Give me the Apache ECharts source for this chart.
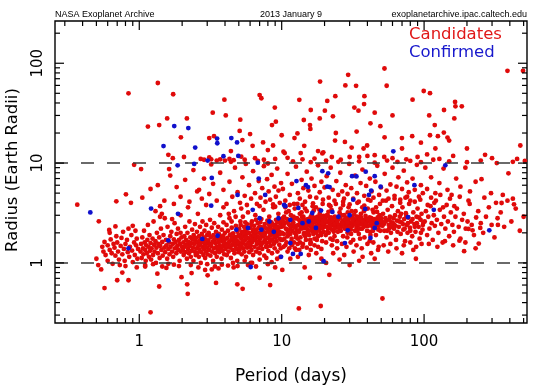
<!DOCTYPE html>
<html>
<head>
<meta charset="utf-8">
<script src="https://cdn.jsdelivr.net/npm/echarts@6/dist/echarts.min.js"></script>
<style>html,body{margin:0;padding:0;background:#fff;}#c{width:550px;height:388px;}</style>
</head>
<body>
<div id="c"></div>
<script>
// ---- axis extents and ticks ----
const X_MIN = 0.256, X_MAX = 528, Y_MIN = 0.25, Y_MAX = 265;
const xTickValues = [0.3,0.4,0.5,0.6,0.7,0.8,0.9,1,2,3,4,5,6,7,8,9,10,20,30,40,50,60,70,80,90,100,200,300,400,500];
const yTickValues = [0.3,0.4,0.5,0.6,0.7,0.8,0.9,1,2,3,4,5,6,7,8,9,10,20,30,40,50,60,70,80,90,100,200];
const majorTicks = [1,10,100];
const xTickLabels = ['1','10','100'];
const yTickLabels = ['1','10','100'];
const refLines = [1, 10];

// ---- candidates: [period (days), radius (Earth radii)] ----
const candShortPeriod = [[0.367,3.83],[0.52,2.61],[0.615,2.14],[0.68,2.32],[0.69,4.14],[0.806,4.86],[0.874,4.0],[0.92,9.6],
[0.5,1.1],[0.515,0.95],[0.54,0.86],[0.57,0.56],[0.70,0.67],[0.84,0.67],[0.76,0.8],[0.96,0.9],
[0.55,1.45],[0.56,1.3],[0.57,1.62],[0.58,1.2],[0.6,1.5],[0.62,1.35],[0.63,1.72],[0.64,1.25],[0.66,1.55],[0.67,1.42],[0.68,1.18],[0.7,1.6],[0.71,1.3],[0.72,1.08],[0.74,1.48],[0.75,1.78],[0.76,1.22],[0.78,1.38],[0.79,1.05],[0.8,1.55],[0.82,1.7],[0.83,1.28],[0.85,1.15],[0.86,1.45],[0.88,1.9],[0.89,1.33],[0.9,1.02],[0.92,1.6],[0.93,1.2],[0.95,1.5],[0.96,1.75],[0.97,1.1],[0.98,1.38],[0.6,1.05],[0.65,0.98],[0.73,0.95],[0.8,0.93],[0.62,2.0],[0.77,2.05],[0.84,2.2],[0.9,2.35],[0.94,2.1],[0.69,1.85]];

const candOneToTwo = [[1.03,8.7],[1.35,6.0],[1.44,3.1],[1.83,5.75],[1.62,8.7],
[1.1,0.92],[1.2,0.32],[1.38,0.58],[1.34,0.78],[1.55,0.89],[1.98,0.72],
[1.02,1.3],[1.03,1.55],[1.04,1.12],[1.05,1.8],[1.06,1.4],[1.07,1.22],[1.08,2.1],[1.09,1.6],[1.1,1.35],[1.11,1.05],[1.12,1.5],[1.13,1.25],[1.14,1.7],[1.15,2.4],[1.16,1.45],[1.17,1.15],[1.18,1.9],[1.19,1.32],[1.2,1.58],[1.21,1.08],[1.22,1.4],[1.24,1.75],[1.25,1.2],[1.26,2.6],[1.27,1.52],[1.28,1.3],[1.3,1.65],[1.31,1.0],[1.32,1.42],[1.33,2.0],[1.35,1.25],[1.36,1.55],[1.38,1.8],[1.39,1.12],[1.4,1.48],[1.42,2.2],[1.43,1.35],[1.45,1.62],[1.46,1.18],[1.48,1.9],[1.5,1.42],[1.51,2.8],[1.52,1.28],[1.54,1.7],[1.55,1.5],[1.57,1.1],[1.58,2.3],[1.6,1.38],[1.62,1.6],[1.63,1.22],[1.65,1.85],[1.66,1.45],[1.68,2.05],[1.7,1.3],[1.72,1.55],[1.73,1.15],[1.75,1.72],[1.77,2.5],[1.78,1.4],[1.8,1.62],[1.82,1.25],[1.83,1.95],[1.85,1.48],[1.87,2.2],[1.88,1.35],[1.9,1.7],[1.92,1.05],[1.93,1.55],[1.95,2.0],[1.96,1.3],[1.98,1.8],[1.99,1.45],[1.1,0.95],[1.25,0.97],[1.45,0.92],[1.6,0.98],[1.75,0.96],[1.9,0.93],[1.4,2.9],[1.7,2.75],[1.95,3.0],[1.3,3.3]];

const candTwoToFive = [[2.17,0.61],[2.19,0.49],[2.33,0.79],[3.02,0.75],[3.23,0.86],[3.46,0.63],[4.88,0.61],
[2.02,1.35],[2.04,1.6],[2.05,1.2],[2.07,1.85],[2.08,1.45],[2.1,2.3],[2.11,1.28],[2.13,1.7],[2.15,1.52],[2.16,1.1],[2.18,2.0],[2.2,1.38],[2.21,1.62],[2.23,1.25],[2.25,2.6],[2.26,1.48],[2.28,1.8],[2.3,1.15],[2.31,1.58],[2.33,1.32],[2.35,2.15],[2.36,1.72],[2.38,1.42],[2.4,1.05],[2.41,1.9],[2.43,1.55],[2.45,1.3],[2.46,2.45],[2.48,1.65],[2.49,1.2],
[2.5,1.78],[2.52,1.4],[2.54,2.05],[2.55,1.25],[2.57,1.6],[2.58,3.1],[2.6,1.48],[2.62,1.15],[2.63,1.85],[2.65,1.35],[2.67,2.3],[2.68,1.55],[2.7,1.0],[2.72,1.7],[2.73,1.28],[2.75,1.95],[2.77,1.45],[2.78,2.6],[2.8,1.62],[2.82,1.2],[2.84,1.8],[2.85,1.38],[2.87,2.1],[2.89,1.5],[2.9,1.12],[2.92,1.72],[2.94,1.3],[2.95,2.4],[2.97,1.58],[2.99,1.9],
[3.0,1.42],[3.02,1.22],[3.05,1.68],[3.07,2.0],[3.1,1.35],[3.12,1.55],[3.14,2.7],[3.16,1.18],[3.18,1.8],[3.2,1.48],[3.23,2.25],[3.25,1.3],[3.27,1.62],[3.3,1.05],[3.32,1.9],[3.34,1.4],[3.36,2.5],[3.38,1.72],[3.41,1.25],[3.43,1.58],[3.46,2.05],[3.48,1.45],
[3.5,1.15],[3.52,1.75],[3.55,1.35],[3.58,2.3],[3.6,1.6],[3.62,1.95],[3.65,1.28],[3.68,1.5],[3.7,3.0],[3.72,1.82],[3.75,1.4],[3.78,1.1],[3.8,2.15],[3.82,1.65],[3.85,1.32],[3.88,1.88],[3.9,2.55],[3.92,1.48],[3.95,1.22],[3.98,1.7],
[4.0,2.0],[4.03,1.38],[4.06,1.55],[4.1,2.4],[4.12,1.2],[4.15,1.78],[4.18,1.45],[4.2,2.1],[4.24,1.3],[4.27,1.62],[4.3,2.8],[4.33,1.9],[4.36,1.42],[4.4,1.12],[4.43,1.7],[4.46,2.25],[4.5,1.52],[4.53,1.35],[4.56,1.98],[4.6,1.6],[4.63,3.3],[4.66,1.25],[4.7,1.82],[4.74,1.48],[4.77,2.35],[4.8,1.38],[4.84,1.68],[4.87,1.05],[4.9,2.05],[4.94,1.55],[4.97,1.28],[4.45,2.6],[4.25,3.1],[4.75,2.9],[4.55,1.0],
[2.3,0.95],[2.6,0.9],[3.0,0.97],[3.4,0.92],[3.8,0.96],[4.2,0.94],[4.6,0.9],[2.9,0.85],[3.6,0.88],[4.9,0.93],
[2.12,1.5],[2.42,1.75],[2.66,1.68],[2.93,1.45],[3.15,1.52],[3.44,1.78],[3.66,1.7],[3.93,1.58],[4.22,1.5],[4.48,1.78],[4.72,1.6],[4.95,1.85]];

const candFiveToTen = [[5.32,0.55],[8.3,0.6],[7.0,0.71],[6.06,1.0],
[5.0,1.6],[5.03,2.2],[5.06,1.35],[5.1,1.9],[5.13,2.6],[5.16,1.48],[5.2,1.75],[5.24,1.22],[5.27,2.05],[5.3,1.58],[5.34,2.9],[5.37,1.4],[5.4,1.85],[5.44,2.3],[5.47,1.3],[5.5,1.68],[5.54,2.1],[5.58,1.52],[5.62,1.15],[5.65,1.95],[5.7,2.45],[5.73,1.42],[5.77,1.78],[5.8,3.2],[5.84,1.6],[5.88,2.0],[5.92,1.28],[5.96,1.72],
[6.0,2.25],[6.05,1.5],[6.1,1.88],[6.14,1.35],[6.18,2.6],[6.22,1.62],[6.27,2.05],[6.3,1.2],[6.35,1.8],[6.4,2.35],[6.44,1.45],[6.48,1.7],[6.53,3.0],[6.57,1.95],[6.62,1.3],[6.66,2.15],[6.7,1.55],[6.75,1.82],[6.8,2.5],[6.85,1.4],[6.9,1.65],[6.95,2.0],
[7.0,1.25],[7.05,2.3],[7.1,1.75],[7.15,1.5],[7.2,2.75],[7.25,1.9],[7.3,1.38],[7.35,2.1],[7.4,1.6],[7.45,3.4],[7.5,1.85],[7.55,1.18],[7.6,2.45],[7.65,1.7],[7.7,2.0],[7.76,1.45],[7.82,2.2],[7.88,1.58],[7.94,2.65],
[8.0,1.78],[8.06,1.32],[8.12,2.05],[8.18,2.9],[8.24,1.62],[8.3,2.3],[8.36,1.48],[8.42,1.9],[8.48,2.55],[8.55,1.25],[8.6,1.72],[8.67,2.15],[8.73,3.6],[8.8,1.55],[8.86,2.0],[8.93,1.4],[9.0,2.4],[9.06,1.8],[9.13,2.7],[9.2,1.65],[9.27,2.1],[9.34,1.3],[9.4,1.92],[9.48,3.1],[9.55,2.25],[9.62,1.52],[9.7,1.75],[9.77,2.5],[9.85,1.4],[9.92,2.0],
[5.2,1.5],[5.6,1.8],[6.0,1.45],[6.4,1.9],[6.8,1.6],[7.2,1.55],[7.6,1.9],[8.0,2.2],[8.4,1.7],[8.8,2.35],[9.2,1.85],[9.6,2.05],[5.4,2.0],[5.9,1.55],[6.3,2.15],[6.9,2.25],[7.4,1.95],[7.9,1.45],[8.3,1.88],[8.9,1.6],[9.4,2.3],[9.9,1.7],
[5.5,1.05],[6.2,1.0],[7.0,1.08],[7.8,1.12],[8.5,1.02],[9.3,1.1],[5.8,0.95],[6.6,0.92],[8.0,0.97],[9.0,0.9],[9.8,1.15],
[5.15,2.4],[5.55,2.55],[6.12,2.45],[6.6,2.7],[7.08,2.55],[7.55,2.3],[8.15,2.6],[8.6,2.45],[9.1,2.25],[9.65,2.75]];

const candTenToTwenty = [[13.2,0.35],[18.8,0.37],[15.8,0.71],[10.1,0.85],[14.5,0.9],
[10.0,2.3],[10.1,1.7],[10.2,2.8],[10.35,1.95],[10.5,2.5],[10.6,1.5],[10.75,3.2],[10.9,2.15],[11.0,1.85],[11.15,2.65],[11.3,1.4],[11.45,2.35],[11.6,3.0],[11.75,1.75],[11.9,2.1],[12.05,2.55],[12.2,1.6],[12.35,3.5],[12.5,2.25],[12.65,1.9],[12.8,2.8],[12.95,1.55],[13.1,2.4],[13.25,2.05],[13.4,3.1],[13.55,1.8],[13.7,2.6],[13.85,2.2],[14.0,1.45],[14.2,2.9],[14.4,2.0],[14.6,2.45],[14.8,1.7],[15.0,3.3],[15.2,2.15],[15.4,2.7],[15.6,1.9],[15.8,2.35],[16.0,1.6],[16.2,3.0],[16.4,2.5],[16.6,2.05],[16.8,2.8],[17.0,1.75],[17.2,2.3],[17.4,3.6],[17.6,2.1],[17.8,2.6],[18.0,1.85],[18.25,2.4],[18.5,3.1],[18.75,2.0],[19.0,2.7],[19.25,1.65],[19.5,2.25],[19.75,2.95],
[10.05,2.0],[10.4,2.9],[10.8,1.6],[11.2,2.45],[11.5,1.95],[11.9,2.75],[12.3,2.0],[12.7,2.35],[13.0,1.75],[13.5,2.5],[13.9,2.9],[14.3,1.95],[14.7,2.6],[15.1,2.0],[15.5,2.4],[15.9,2.85],[16.3,2.2],[16.7,1.95],[17.1,2.55],[17.5,2.0],[17.9,2.9],[18.3,2.15],[18.7,2.5],[19.1,2.3],[19.6,2.05],
[10.2,2.6],[10.7,2.2],[11.1,2.0],[11.7,2.3],[12.1,2.9],[12.6,1.8],[13.2,2.7],[13.6,2.25],[14.1,2.55],[14.5,2.25],[15.3,2.5],[15.7,2.1],[16.1,2.7],[16.5,2.35],[17.3,2.7],[17.7,2.35],[18.1,2.6],[18.9,2.25],[19.3,2.55],[19.8,2.4],
[10.3,1.45],[11.0,1.3],[11.8,1.5],[12.4,1.4],[13.3,1.35],[14.1,1.55],[15.0,1.42],[16.0,1.35],[17.0,1.5],[18.0,1.45],[19.0,1.38],[10.6,3.6],[11.4,3.8],[12.9,3.9],[14.6,3.5],[16.5,3.7],[18.4,3.4],[19.4,3.9],[13.0,1.15],[15.5,1.2],[17.5,1.25],[11.5,1.1],[19.0,1.1],
[10.45,1.75],[11.05,2.6],[11.65,1.62],[12.25,2.3],[12.85,2.1],[13.45,1.6],[14.05,2.3],[14.65,1.85],[15.25,2.75],[15.85,1.7],[16.45,2.9],[17.05,2.25],[17.65,1.7],[18.35,2.8],[18.95,1.9],[19.55,2.65]];

const candTwentyToFifty = [[21.6,0.76],[20.5,1.0],[30.0,0.95],
[20.0,2.5],[20.4,1.9],[20.8,3.0],[21.2,2.2],[21.6,2.7],[22.0,1.75],[22.4,3.4],[22.8,2.4],[23.2,2.05],[23.6,2.9],[24.0,2.3],[24.5,1.65],[25.0,2.75],[25.5,3.2],[26.0,2.1],[26.5,2.55],[27.0,1.85],[27.5,3.0],[28.0,2.35],[28.5,2.8],[29.0,2.0],[29.5,3.6],[30.0,2.5],[30.6,2.15],[31.2,2.9],[31.8,1.7],[32.4,2.6],[33.0,3.3],[33.6,2.25],[34.2,2.75],[34.8,1.95],[35.4,2.45],[36.0,3.1],[36.7,2.2],[37.4,2.65],[38.1,1.8],[38.8,2.95],[39.5,2.35],[40.2,3.5],[41.0,2.6],[41.8,2.05],[42.6,2.8],[43.4,2.3],[44.2,3.2],[45.0,2.5],[45.9,1.9],[46.8,2.7],[47.7,2.15],[48.6,3.0],[49.5,2.4],
[20.2,2.8],[20.6,2.3],[21.0,2.55],[21.4,2.0],[21.8,2.45],[22.2,2.85],[22.6,2.15],[23.0,2.6],[23.4,2.35],[23.8,2.5],[24.3,2.7],[24.8,2.05],[25.3,2.4],[25.8,2.85],[26.3,2.3],[26.8,2.65],[27.3,2.45],[27.8,2.2],[28.3,2.6],[28.8,2.4],[29.3,2.7],[29.8,2.25],[30.3,2.85],[30.9,2.55],[31.5,2.35],[32.1,2.75],[32.7,2.1],[33.3,2.5],[33.9,2.9],[34.5,2.4],[35.1,2.65],[35.7,2.2],[36.3,2.8],[37.0,2.45],[37.7,2.3],[38.4,2.7],[39.1,2.5],[39.8,2.1],[40.6,2.35],[41.4,2.85],[42.2,2.4],[43.0,2.65],[43.8,2.1],[44.6,2.75],[45.4,2.3],[46.3,2.55],[47.2,2.85],[48.1,2.35],[49.0,2.6],
[20.5,1.6],[22.5,1.5],[24.5,1.4],[26.5,1.55],[28.5,1.45],[30.5,1.6],[33.5,1.5],[36.5,1.4],[40.0,1.55],[44.0,1.6],[48.0,1.45],[21.5,3.8],[24.0,3.9],[27.0,4.1],[30.0,3.85],[34.0,4.0],[38.0,3.75],[42.0,4.2],[46.0,3.6],[49.0,3.9],[23.0,1.25],[27.5,1.2],[32.0,1.3],[37.0,1.15],[42.5,1.25],[47.5,1.35],[25.5,1.08],[35.0,1.05],[45.0,1.1],
[20.9,2.05],[22.0,2.65],[23.5,1.85],[25.0,2.25],[26.2,3.0],[27.6,2.6],[29.1,3.2],[30.7,1.95],[32.3,3.05],[34.0,2.1],[35.8,2.9],[37.8,3.3],[39.9,2.75],[42.0,1.9],[44.3,2.45],[46.7,3.25],[49.2,2.1]];

const candCoreExtra = [[3.1,1.9],[3.3,1.62],[3.6,1.42],[3.9,1.75],[4.1,1.5],[4.4,1.92],[4.7,1.7],[5.05,1.42],[5.35,1.65],[5.75,2.2],[6.15,1.72],[6.5,2.05],[6.95,1.8],[7.3,2.25],[7.7,1.6],[8.1,2.45],[8.5,2.1],[8.95,1.85],[9.35,2.55],[9.75,1.95],
[10.3,2.35],[10.9,2.75],[11.4,2.15],[12.0,2.5],[12.5,2.8],[13.1,2.1],[13.7,2.4],[14.3,2.75],[14.9,2.25],[15.6,2.65],[16.2,2.4],[16.9,2.6],[17.6,2.85],[18.2,2.3],[18.9,2.95],[19.5,2.5],
[20.3,2.65],[21.1,2.95],[21.9,2.3],[22.7,2.7],[23.6,2.2],[24.6,2.6],[25.6,2.95],[26.7,2.5],[27.8,2.75],[29.0,2.55],[30.2,2.3],[31.5,2.65],[32.8,2.45],[34.2,2.55],[35.6,2.75],[37.2,2.6],[38.8,2.45],[40.5,2.7],[42.3,2.55],[44.1,2.35],[46.0,2.65],[48.0,2.5],[50.0,2.8],[52.2,2.45],[54.4,2.65],[56.8,2.2],[59.2,2.55],[61.8,2.4],
[11.2,3.3],[13.8,3.2],[16.8,3.35],[21.3,3.25],[25.9,3.5],[31.0,3.3],[36.8,3.6],[43.5,3.4],[12.6,1.35],[15.9,1.55],[22.8,1.7],[28.9,1.8],[35.5,1.75],[41.5,1.65]];

const candFiftyToHundred = [[51,0.44],[87.6,1.1],
[50.5,2.6],[51.5,3.1],[52.5,2.1],[53.5,2.8],[54.5,1.8],[55.5,3.4],[56.5,2.4],[57.5,2.9],[58.5,2.0],[59.5,3.7],[60.5,2.5],[61.5,2.2],[62.5,3.0],[63.5,1.7],[64.5,2.65],[65.5,3.3],[66.5,2.3],[67.5,2.9],[68.5,1.95],[69.5,2.55],[70.5,3.6],[71.5,2.15],[72.5,2.75],[73.5,1.65],[74.5,3.15],[75.5,2.4],[76.5,2.0],[77.5,2.85],[78.5,3.9],[79.5,2.25],[81,2.6],[82.5,1.85],[84,3.2],[85.5,2.45],[87,2.05],[88.5,2.9],[90,3.5],[91.5,2.3],[93,1.75],[94.5,2.7],[96,3.1],[97.5,2.15],[99,2.55],
[51,2.35],[53,2.55],[55,2.1],[57,2.7],[59,2.3],[61,2.8],[63,2.35],[65,2.05],[67,2.6],[69,3.1],[71,2.45],[73,2.2],[75,2.95],[77,2.5],[80,2.1],[83,2.75],[86,2.3],[89,2.5],[92,2.85],[95,2.0],[98,2.4],
[52,1.5],[58,1.55],[64,1.4],[72,1.5],[80,1.6],[88,1.45],[96,1.55],[54,4.2],[62,4.4],[68,4.0],[76,4.6],[86,4.1],[94,4.3],[56,1.3],[70,1.25],[84,1.35]];

const candLongPeriod = [[191,1.31],[242,1.56],[330,2.4],[428,3.86],[350,3.98],[357,4.8],[295,5.0],[219,2.12],[205,2.19],[177,1.67],[248,2.24],
[101,2.6],[103,3.3],[105,1.9],[107,2.9],[109,2.2],[111,3.7],[113,2.5],[115,1.7],[117,3.0],[119,2.35],[121,4.2],[123,2.7],[126,2.0],[129,3.4],[132,2.45],[135,1.6],[138,2.9],[141,2.2],[144,3.8],[147,2.6],[150,1.85],[154,3.2],[158,2.4],[162,2.05],[166,2.9],[170,3.5],[175,2.3],[180,1.75],[185,2.7],[190,3.1],[196,2.2],[202,2.6],[209,3.9],[216,2.4],[224,1.9],[232,2.85],[240,3.3],[250,2.5],[260,2.0],[272,2.9],[285,3.6],[298,2.4],[312,1.8],[328,2.8],[345,3.2],[365,2.3],[385,4.2],[410,2.6],[440,3.5],[470,2.1],[500,2.9],
[108,1.55],[124,1.45],[140,1.65],[160,1.5],[195,1.6],[230,1.4],[112,4.5],[130,4.8],[152,4.4],[178,4.6],[205,4.2],[265,4.5],[320,4.0],[420,4.4],[106,3.8],[118,4.0],[136,3.6],[163,3.7]];

const candMidRadius = [[1.05,4.5],[1.2,5.5],[1.5,4.2],[1.65,7.5],[1.95,4.6],[2.1,6.8],[2.25,4.1],[2.4,8.5],[2.55,5.2],[2.63,5.4],[2.75,4.4],[2.85,7.0],[2.95,3.8],[1.4,3.7],[1.75,3.9],[2.2,3.6],
[3.1,4.9],[3.3,6.2],[3.5,4.2],[3.7,8.0],[3.9,5.4],[4.1,3.9],[4.3,6.5],[4.5,4.6],[4.7,9.0],[4.9,5.1],[5.1,4.0],[5.3,7.2],[5.5,4.7],[5.7,3.8],[5.9,6.0],[6.1,4.4],[6.3,8.3],[6.5,5.0],[6.7,3.9],[6.9,6.6],[7.1,4.5],[7.3,5.6],[7.5,9.3],[7.7,4.1],[7.9,6.9],[8.1,5.2],[8.3,4.3],[8.5,7.6],[8.7,3.85],[8.9,5.8],[9.1,4.6],[9.3,8.8],[9.5,5.3],[9.7,4.0],[9.9,6.3],[3.2,9.7],[4.4,10.3],[5.6,9.8],[6.8,10.5],[8.0,9.9],[3.9,3.6],[5.2,3.5],[7.0,3.7],[9.0,3.65],
[10.2,5.5],[10.6,4.2],[11.0,7.8],[11.4,4.8],[11.8,6.2],[12.2,3.9],[12.6,9.2],[13.0,5.0],[13.4,4.4],[13.8,6.8],[14.2,5.6],[14.6,4.1],[15.0,8.2],[15.4,5.3],[15.8,4.6],[16.2,7.0],[16.6,3.95],[17.0,5.9],[17.5,4.5],[18.0,9.5],[18.5,5.1],[19.0,6.5],[19.5,4.3],[20.0,5.7],[20.7,7.4],[21.4,4.5],[22.1,9.0],[22.8,5.4],[23.5,4.2],[24.2,6.6],[25.0,4.8],[25.8,8.0],[26.6,5.2],[27.4,4.4],[28.2,6.0],[29.0,4.9],[29.8,9.8],[12.0,10.4],[16.0,10.2],[20.5,10.6],[25.0,10.3],[14.0,3.8],[22.0,3.7],[27.0,3.8],
[30.8,5.6],[31.8,4.4],[32.8,7.5],[33.8,5.0],[34.8,4.1],[35.8,6.3],[36.9,8.6],[38.0,4.7],[39.2,5.9],[40.4,4.3],[41.6,7.0],[42.8,5.2],[44.1,4.5],[45.5,6.5],[46.9,9.4],[48.3,4.8],[49.8,5.7],[51.3,4.2],[52.9,7.8],[54.5,5.3],[56.2,4.4],[58.0,6.1],[60.0,9.0],[62,4.7],[64,5.8],[66,7.2],[68,4.3],[70,5.5],[72,8.4],[74,4.5],[76,6.4],[78,5.1],[80,4.2],[83,7.0],[86,5.4],[89,9.6],[92,4.6],[95,6.0],[98,5.0],[35,10.4],[45,10.1],[55,10.6],[65,10.3],[80,10.5],[95,10.2],
[105,5.5],[112,7.2],[120,5.0],[128,6.3],[137,8.8],[146,5.4],[156,4.8],[168,7.0],[180,5.8],[195,9.0],[210,5.2],[230,6.5],[253,6.9],[324,10.0],[391,7.9],[474,15],[150,10.4],[200,10.2],[250,10.6],[420,10.3],[510,10.5],[102,9.0],[116,10.8]];

const candLargeRadius = [[0.84,50],[1.35,63.4],[1.73,48.9],[1.15,23.2],[1.38,24],[1.57,28],[2.16,28],[1.96,18.1],[1.6,12.1],[1.72,11.2],[2.06,11.5],[3.96,43.2],[3.28,32],[4.05,30],[5.12,27.2],[3.35,18.6],[3.1,17.8],[5.07,21],[5.3,17],[2.7,11.0],[2.85,10.8],[3.1,11.4],[3.2,10.9],[3.5,10.6],[3.7,10.9],[4.0,10.6],[4.3,11.0],[4.6,10.7],[5.2,11.6],[5.5,10.8],[7.0,48],[7.2,44.6],[6.25,14.9],[7.4,16.1],[8.55,24],[9.1,26],[8.95,36],[10,19],[8.7,15],[10.3,13],[10.5,12.6],[13.3,43],[14.3,27],[12.9,19.8],[12.3,17.8],[13.6,12.6],[14.4,14.9],[15.8,24],[15.9,22],[29.3,76.5],[52.7,88.6],[54.6,59.5],[18.6,65.6],[33.3,59.4],[32.4,36],[34.6,33.5],[38.1,46.8],[37.9,39],[20.9,41.9],[23.8,46.8],[20.1,33.5],[18.5,28],[22.9,29.4],[24,20],[33.6,20.7],[23.7,16.8],[27.8,16.3],[31,14.3],[37.6,14],[39.8,15],[18,13.2],[19.3,12.5],[19.6,12.8],[22.5,11.5],[30,11.5],[35,11.5],[40,11.8],[49.3,23.4],[52.8,18.1],[69.9,17.8],[83,43.2],[82.5,18.6],[52.5,11.5],[99.4,52.7],[110,50.1],[108.6,30],[118.8,24],[110,19],[125,18.6],[138,34],[137.6,20.2],[146,18],[150,16.8],[163,28],[165,41],[166,37],[184,37],[268,12.1],[385,84],[495,84],[6.5,11.2],[7.5,10.8],[9.0,11.0],[11.0,11.3],[14.0,10.9],[17.0,11.1],[26.0,10.8],[45.0,12.0],[60,11.2],[75,10.9],[90,11.5],[105,12.2],[128,11.0],[160,11.8],[300,11.2],[450,11.0],[8.0,13.5],[6.0,19.5],[4.4,13.2],[42,25],[60,30],[70,14],[95,16],[120,14],[200,14],[28,60],[45,32],[16,34]];

// ---- confirmed planets ----
const confirmedPlanets = [[0.453,3.2],[1.21,3.5],[1.86,9.5],[2.43,9.8],[3.02,10.6],[3.23,7.1],[1.87,3.1],[3.2,3.74],[0.84,1.4],[1.6,1.68],[2.77,1.74],[1.76,23.5],[2.21,22.4],[1.48,14.8],[2.47,14.3],[3.52,17.6],[3.53,15.8],[4.43,17.8],[4.86,16.1],[3.9,11.7],[4.96,11.8],[6.8,10.1],[6.9,7.0],[4.9,4.8],[7.66,4.8],[12.7,6.6],[14.8,6.0],[15.3,5.75],[19.3,8.3],[21.2,7.9],[20.9,5.8],[21.7,5.75],[31.2,7.4],[33.5,7.35],[38.9,8.2],[31.8,4.3],[60.8,13.1],[10.4,3.8],[10.6,3.7],[6.26,3.4],[13.1,3.55],[16.4,3.16],[18.9,3.34],[22.7,3.24],[5.8,2.24],[7.2,2.15],[8.8,2.05],[15.5,2.6],[17.4,2.24],[4.8,2.15],[3.55,1.87],[11.5,1.58],[12,1.23],[9.9,1.15],[13.6,1.23],[19.7,1.04],[27.8,1.58],[29.1,2.12],[6.06,0.91],[45,7.4],[49.5,5.8],[42.5,5.3],[41,4.8],[85.5,6.0],[117,3.4],[77,2.88],[46.5,2.5],[45,2.24],[42,1.78],[141,9.5],[38.6,3.47],[287,2.12],[8.2,2.6],[9.5,2.8],[11.5,2.7],[14,2.5],[25,2.9],[30,3.0],[7.0,2.8]];

const candidates = [].concat(candShortPeriod, candOneToTwo, candTwoToFive, candFiveToTen,
  candTenToTwenty, candTwentyToFifty, candCoreExtra, candFiftyToHundred, candLongPeriod, candMidRadius, candLargeRadius);

// ---- styles ----
const RED = '#e00a0a', BLUE = '#1010cc';
const FONT = "'DejaVu Sans', sans-serif";

const tickData = [];
xTickValues.forEach(v => tickData.push([v, 1, 0, majorTicks.includes(v) ? 1 : 0]));
yTickValues.forEach(v => tickData.push([1, v, 1, majorTicks.includes(v) ? 1 : 0]));
const labelData = [];
majorTicks.forEach((v, i) => labelData.push([v, 1, 0, xTickLabels[i]]));
majorTicks.forEach((v, i) => labelData.push([1, v, 1, yTickLabels[i]]));

const chart = echarts.init(document.getElementById('c'), null, {renderer: 'canvas'});
chart.setOption({
  animation: false,
  backgroundColor: '#fff',
  grid: {left: 55, right: 23, top: 21, bottom: 65, show: true, borderColor: '#000', borderWidth: 1.4, backgroundColor: 'transparent'},
  xAxis: {type: 'log', logBase: 10, min: X_MIN, max: X_MAX,
    axisLine: {show: false}, axisTick: {show: false}, axisLabel: {show: false}, splitLine: {show: false}},
  yAxis: {type: 'log', logBase: 10, min: Y_MIN, max: Y_MAX,
    axisLine: {show: false}, axisTick: {show: false}, axisLabel: {show: false}, splitLine: {show: false}},
  graphic: [
    {type: 'text', x: 55, y: 15, style: {text: 'NASA Exoplanet Archive', font: "9px 'Liberation Sans', Arial, sans-serif", fill: '#000', textAlign: 'left', textVerticalAlign: 'middle'}},
    {type: 'text', x: 291, y: 15, style: {text: '2013 January 9', font: "9px 'Liberation Sans', Arial, sans-serif", fill: '#000', textAlign: 'center', textVerticalAlign: 'middle'}},
    {type: 'text', x: 527, y: 15, style: {text: 'exoplanetarchive.ipac.caltech.edu', font: "9px 'Liberation Sans', Arial, sans-serif", fill: '#000', textAlign: 'right', textVerticalAlign: 'middle'}},
    {type: 'text', x: 409, y: 35, z: 20, style: {text: 'Candidates', font: "16.5px " + FONT, fill: '#e01818', textAlign: 'left', textVerticalAlign: 'middle'}},
    {type: 'text', x: 409, y: 53, z: 20, style: {text: 'Confirmed', font: "16.5px " + FONT, fill: '#1818cc', textAlign: 'left', textVerticalAlign: 'middle'}},
    {type: 'text', x: 291, y: 377, style: {text: 'Period (days)', font: "17px " + FONT, fill: '#000', textAlign: 'center', textVerticalAlign: 'middle'}},
    {type: 'text', x: 13, y: 170, rotation: Math.PI / 2, style: {text: 'Radius (Earth Radii)', font: "16.5px " + FONT, fill: '#000', textAlign: 'center', textVerticalAlign: 'middle'}}
  ],
  series: [
    {name: 'Candidates', type: 'scatter', data: candidates, symbol: 'circle', symbolSize: 4.8,
      itemStyle: {color: RED, opacity: 1}, z: 2, silent: true, large: false,
      markLine: {silent: true, symbol: ['none', 'none'], label: {show: false},
        lineStyle: {type: [13, 13], color: '#3a3a3a', width: 1.5, opacity: 1},
        data: refLines.map(v => ({yAxis: v}))}},
    {name: 'Confirmed', type: 'scatter', data: confirmedPlanets, symbol: 'circle', symbolSize: 4.8,
      itemStyle: {color: BLUE, opacity: 1}, z: 6, silent: true},
    {name: 'ticks', type: 'custom', data: tickData, z: 10, silent: true, clip: false,
      encode: {x: 0, y: 1},
      renderItem: function (params, api) {
        const isY = api.value(2) === 1;
        const v = api.value(isY ? 1 : 0);
        const len = api.value(3) ? 9 : 5;
        const st = {stroke: '#000', lineWidth: 1.2};
        if (!isY) {
          const b = api.coord([v, Y_MIN]), t = api.coord([v, Y_MAX]);
          return {type: 'group', children: [
            {type: 'line', shape: {x1: b[0], y1: b[1], x2: b[0], y2: b[1] - len}, style: st},
            {type: 'line', shape: {x1: t[0], y1: t[1], x2: t[0], y2: t[1] + len}, style: st}]};
        }
        const l = api.coord([X_MIN, v]), r = api.coord([X_MAX, v]);
        return {type: 'group', children: [
          {type: 'line', shape: {x1: l[0], y1: l[1], x2: l[0] + len, y2: l[1]}, style: st},
          {type: 'line', shape: {x1: r[0], y1: r[1], x2: r[0] - len, y2: r[1]}, style: st}]};
      }},
    {name: 'tickLabels', type: 'custom', data: labelData, z: 10, silent: true, clip: false,
      encode: {x: 0, y: 1},
      renderItem: function (params, api) {
        const item = labelData[params.dataIndex];
        const isY = item[2] === 1;
        if (!isY) {
          const b = api.coord([item[0], Y_MIN]);
          return {type: 'text', x: b[0], y: b[1] + 19,
            style: {text: item[3], font: "15px " + FONT, fill: '#000', textAlign: 'center', textVerticalAlign: 'middle'}};
        }
        const l = api.coord([X_MIN, item[1]]);
        return {type: 'text', x: l[0] - 17, y: l[1], rotation: Math.PI / 2,
          style: {text: item[3], font: "15px " + FONT, fill: '#000', textAlign: 'center', textVerticalAlign: 'middle'}};
      }}
  ]
});
</script>
</body>
</html>
